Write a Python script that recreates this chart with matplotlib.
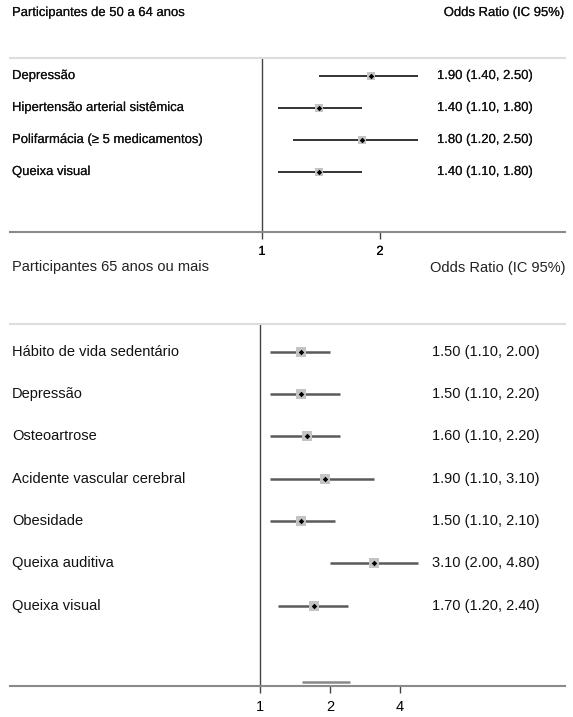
import matplotlib
matplotlib.use("Agg")
import matplotlib.pyplot as plt
import matplotlib.transforms as mtrans
import matplotlib.patheffects as pe
import numpy as np

# top panel: 50 to 64 years
top_title = "Participantes de 50 a 64 anos"
top_labels = ["Depressão", "Hipertensão arterial sistêmica",
              "Polifarmácia (≥ 5 medicamentos)", "Queixa visual"]
top_or = [1.90, 1.40, 1.80, 1.40]
top_lo = [1.40, 1.10, 1.20, 1.10]
top_hi = [2.50, 1.80, 2.50, 1.80]
top_ticks = [1, 2]

# bottom panel: 65 years or more
bot_title = "Participantes 65 anos ou mais"
bot_labels = ["Hábito de vida sedentário", "Depressão", "Osteoartrose",
              "Acidente vascular cerebral", "Obesidade", "Queixa auditiva",
              "Queixa visual"]
bot_or = [1.50, 1.50, 1.60, 1.90, 1.50, 3.10, 1.70]
bot_lo = [1.10, 1.10, 1.10, 1.10, 1.10, 2.00, 1.20]
bot_hi = [2.00, 2.20, 2.20, 3.10, 2.10, 4.80, 2.40]
bot_ticks = [1, 2, 4]
bot_stray = [1.52, 2.45]   # faint bar sitting on the bottom axis

W, H = 573, 717
fig = plt.figure(figsize=(W / 100, H / 100), dpi=100)

top_font = ["Liberation Sans", "DejaVu Sans"]
bot_font = ["Liberation Sans Narrow", "Liberation Sans", "DejaVu Sans"]
heavy = [pe.withStroke(linewidth=0.12, foreground="#222222")]


def px_axes(x0, x1, ytop, ybot):
    return fig.add_axes([x0 / W, (H - ybot) / H, (x1 - x0) / W, (ybot - ytop) / H])


def fpx(x):
    return x / W


def forest(ax, labels, orv, lo, hi, xlim, ylim, ticks, font, fsize,
           txt_x, lcol, lw, box, heavy_fx):
    ax.set_xscale("log", base=2)
    ax.set_xlim(*xlim)
    ax.set_ylim(*ylim)
    n = len(labels)
    y = np.arange(n)
    ax.hlines(y, lo, hi, color=lcol, lw=lw, zorder=2)
    ax.scatter(orv, y, marker="s", s=box, color="#c4c4c4", zorder=3, lw=0)
    ax.scatter(orv, y, marker="D", s=8, color="black", zorder=4, lw=0)
    ax.axvline(1, color="#444444", lw=1.0, zorder=1)
    tr = mtrans.blended_transform_factory(fig.transFigure, ax.transData)
    for i in range(n):
        t1 = ax.text(fpx(12), y[i], labels[i], transform=tr, va="center",
                     ha="left", fontsize=fsize, family=font, color="#111111")
        t2 = ax.text(fpx(txt_x), y[i], "%.2f (%.2f, %.2f)" % (orv[i], lo[i], hi[i]),
                     transform=tr, va="center", ha="left", fontsize=fsize,
                     family=font, color="#111111")
        if heavy_fx:
            t1.set_path_effects(heavy)
            t2.set_path_effects(heavy)
    for s in ["left", "right"]:
        ax.spines[s].set_visible(False)
    ax.spines["top"].set_color("#dddddd")
    ax.spines["top"].set_linewidth(1.5)
    ax.spines["bottom"].set_color("#8a8a8a")
    ax.spines["bottom"].set_linewidth(1.5)
    ax.set_yticks([])
    ax.set_xticks(ticks)
    ax.set_xticklabels([str(t) for t in ticks], family=font, fontsize=fsize)
    ax.xaxis.set_minor_locator(matplotlib.ticker.NullLocator())
    ax.tick_params(axis="x", length=5, width=1, color="#444444", pad=5)
    if heavy_fx:
        for lab in ax.get_xticklabels():
            lab.set_path_effects(heavy)
    ax.patch.set_alpha(0)


# top axes: x=1 at px 262, x=2 at px 380
ax1 = px_axes(10, 565, 58, 232)
k1 = 118.0
forest(ax1, top_labels, top_or, top_lo, top_hi,
       (2 ** ((10 - 262) / k1), 2 ** ((565 - 262) / k1)),
       (4.875, -0.5625), top_ticks, top_font, 9.4, 437,
       "#333333", 1.4, 28, True)
t = fig.text(fpx(12), 1 - 13 / H, top_title, va="center", ha="left",
             fontsize=9.4, family=top_font, color="#111111")
t.set_path_effects(heavy)
t = fig.text(fpx(564), 1 - 13 / H, "Odds Ratio (IC 95%)", va="center", ha="right",
             fontsize=9.4, family=top_font, color="#111111")
t.set_path_effects(heavy)

# bottom axes: x=1 at px 260, x=2 at px 330
ax2 = px_axes(10, 565, 324, 686)
k2 = 70.0
forest(ax2, bot_labels, bot_or, bot_lo, bot_hi,
       (2 ** ((10 - 260) / k2), 2 ** ((565 - 260) / k2)),
       (7.9, -0.66), bot_ticks, bot_font, 10.5, 432,
       "#5a5a5a", 1.8, 45, False)
ax2.hlines(7.8, bot_stray[0], bot_stray[1], color="#888888", lw=1.8)
fig.text(fpx(12), 1 - 267 / H, bot_title, va="center", ha="left",
         fontsize=10.5, family=bot_font, color="#222222")
fig.text(fpx(566), 1 - 268 / H, "Odds Ratio (IC 95%)", va="center", ha="right",
         fontsize=10.5, family=bot_font, color="#222222")

fig.savefig("out.png", dpi=100)
